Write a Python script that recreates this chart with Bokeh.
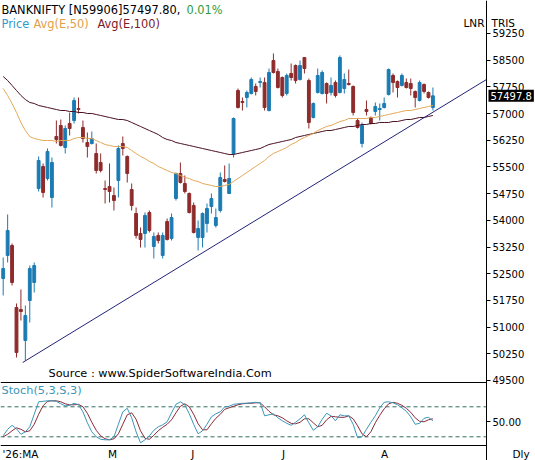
from bokeh.plotting import figure
from bokeh.models import (ColumnDataSource, FixedTicker, Label, Range1d,
                          LinearAxis, NumeralTickFormatter)
from bokeh.embed import file_html
from bokeh.resources import INLINE

# ---------------- data ----------------
opens = [52365, 53012, 53293, 51550, 51494, 50623, 51747, 52253, 54894, 55513,
         55176, 54641, 56355, 56665, 56047, 56721, 56805, 57142, 56609, 56187,
         56159, 55878, 55625, 54894, 54951, 54697, 55119, 56159, 55794, 54866,
         54192, 53630, 53630, 54220, 53264, 53574, 53012, 53967, 53489, 54613,
         55316, 55035, 54754, 54417, 53517, 53517, 53911, 54388, 53855, 54276,
         55147, 54754, 55878, 57648, 57339, 57451, 57564, 57761, 57873, 57873,
         57086, 58491, 58182, 58013, 57564, 58126, 58351, 57957, 58575, 57929,
         56890, 57592, 57564, 57845, 57592, 57873, 57592, 57704, 57845, 57761,
         56805, 56159, 57114, 56890, 57058, 57114, 57171, 57536, 58070, 57901,
         57789, 57873, 57845, 57620, 57367, 57817, 57592, 57171]
highs = [52955, 54164, 53349, 51663, 52056, 51606, 52730, 52815, 55794, 55597,
         56018, 55765, 56805, 56833, 56665, 57030, 57451, 57451, 56805, 56468,
         56496, 56159, 55878, 55119, 55597, 54922, 56103, 56355, 55822, 55035,
         54360, 53798, 54220, 54276, 53658, 53658, 53658, 54051, 54192, 55344,
         55625, 55260, 54782, 54501, 53995, 54220, 54473, 54754, 54332, 55344,
         55541, 55597, 56890, 57704, 57451, 57648, 58013, 57845, 58013, 58013,
         58266, 58688, 58266, 58041, 58126, 58407, 58379, 58491, 58575, 57985,
         57311, 58266, 58210, 57873, 58013, 57929, 58632, 58126, 58238, 57789,
         56861, 56749, 57367, 56918, 57311, 57283, 57451, 58266, 58126, 57929,
         58126, 57985, 57985, 57648, 57929, 57845, 57620, 57732]
lows = [51888, 52815, 52169, 50145, 51185, 50061, 51129, 51972, 54810, 54641,
        55119, 54360, 56159, 56075, 55878, 56384, 56721, 57002, 56187, 55765,
        56131, 55316, 55344, 54473, 54501, 54276, 54641, 55822, 55063, 54276,
        53489, 53236, 53236, 53658, 52927, 53349, 52927, 53433, 53433, 54557,
        55035, 54754, 54192, 53630, 53152, 53236, 53658, 54192, 53798, 54220,
        55063, 54754, 55765, 57142, 57086, 57171, 57536, 57508, 57732, 57086,
        57058, 58126, 57704, 57451, 57508, 57929, 57845, 57929, 58126, 56580,
        56861, 57564, 57536, 57283, 57508, 57451, 57564, 57564, 57789, 56946,
        56580, 56047, 56946, 56693, 56946, 56805, 57142, 57508, 57592, 57451,
        57761, 57704, 57508, 57171, 57339, 57564, 57423, 57086]
closes = [52646, 53714, 52253, 50286, 51438, 51326, 52646, 52730, 55681, 54782,
          55934, 55625, 56271, 56103, 56580, 56580, 57367, 57114, 56299, 56075,
          56299, 55400, 55400, 54866, 54810, 54557, 56018, 56018, 55316, 54417,
          53574, 53461, 54136, 53714, 53547, 53433, 53574, 53461, 54079, 55316,
          55063, 54810, 54220, 53658, 53770, 54192, 54332, 54613, 54079, 55204,
          55091, 55176, 56861, 57171, 57311, 57592, 57957, 57620, 57901, 57171,
          58154, 58154, 57732, 57508, 58070, 58013, 57929, 58351, 58266, 56749,
          57283, 58070, 58154, 57564, 57789, 57508, 58575, 57957, 57817, 57030,
          56608, 56665, 57058, 56721, 57199, 57142, 57283, 58238, 57873, 57732,
          58070, 57732, 57704, 57451, 57873, 57620, 57451, 57497.8]

ema50 = [57704, 57508, 57283, 57030, 56749, 56524, 56355, 56299, 56271, 56243,
         56243, 56243, 56215, 56243, 56243, 56243, 56299, 56327, 56327, 56299,
         56299, 56243, 56187, 56131, 56103, 56075, 56075, 56075, 56047, 55962,
         55878, 55794, 55737, 55653, 55597, 55513, 55457, 55400, 55344, 55316,
         55260, 55204, 55176, 55119, 55091, 55035, 55007, 54979, 54951, 54951,
         54979, 55007, 55091, 55176, 55260, 55344, 55429, 55513, 55597, 55681,
         55794, 55878, 55934, 55990, 56047, 56131, 56187, 56271, 56327, 56384,
         56440, 56524, 56580, 56637, 56665, 56721, 56777, 56805, 56861, 56861,
         56861, 56861, 56861, 56890, 56890, 56918, 56946, 56974, 57002, 57030,
         57058, 57086, 57086, 57114, 57142, 57171, 57199, 57227]
ema100 = [58041, 57929, 57789, 57648, 57508, 57395, 57311, 57283, 57227, 57199,
          57171, 57142, 57114, 57086, 57086, 57058, 57058, 57030, 57030, 57002,
          57002, 56974, 56946, 56918, 56890, 56861, 56833, 56833, 56805, 56749,
          56693, 56637, 56580, 56524, 56468, 56412, 56327, 56271, 56243, 56187,
          56159, 56131, 56103, 56075, 56047, 56018, 55990, 55962, 55934, 55906,
          55878, 55850, 55850, 55878, 55906, 55934, 55962, 55990, 56018, 56075,
          56131, 56159, 56187, 56215, 56243, 56271, 56327, 56355, 56384, 56412,
          56440, 56468, 56496, 56524, 56524, 56552, 56580, 56609, 56637, 56637,
          56665, 56693, 56693, 56721, 56721, 56749, 56749, 56749, 56777, 56777,
          56805, 56833, 56833, 56861, 56890, 56890, 56918, 56946]

stoch_k = [22, 35, 43, 36, 25, 30, 40, 65, 90, 91,
           92, 92, 91, 86, 82, 83, 87, 84, 70, 48,
           30, 20, 15, 14, 14, 20, 45, 70, 77, 58,
           30, 8, 14, 22, 33, 40, 44, 50, 68, 85,
           90, 84, 66, 45, 26, 32, 45, 60, 66, 70,
           80, 81, 85, 86, 87, 87, 88, 89, 88, 62,
           64, 66, 58, 52, 47, 43, 49, 56, 64, 48,
           33, 40, 55, 67, 62, 52, 64, 62, 62, 45,
           18, 20, 35, 49, 62, 78, 89, 90, 88, 84,
           78, 71, 60, 45, 47, 57, 59, 52]
stoch_d = [20, 25, 32, 38, 35, 30, 32, 45, 65, 82,
           91, 92, 92, 90, 86, 84, 84, 85, 80, 67,
           49, 33, 22, 16, 14, 16, 26, 45, 64, 68,
           55, 32, 17, 15, 23, 32, 39, 45, 54, 68,
           81, 86, 80, 65, 46, 34, 34, 46, 57, 65,
           75, 78, 81, 84, 86, 87, 87, 88, 88, 80,
           71, 64, 62, 58, 52, 47, 46, 49, 56, 56,
           48, 40, 43, 54, 61, 60, 59, 59, 62, 56,
           42, 26, 20, 30, 48, 63, 76, 86, 89, 87,
           83, 77, 69, 58, 51, 50, 54, 56]

trend_x = [4.4, 109.1]
trend_y = [50005, 57957]

price_ticks = [49500, 50250, 51000, 51750, 52500, 53250, 54000, 54750,
               55500, 56250, 57000, 57750, 58500, 59250]
month_ticks = [3.9, 24.7, 42.8, 63.3, 86.1]
month_labels = ["'26:MA", "M", "J", "J", "A"]
stoch_levels = [80, 20]
stoch_mid = 50
last_price = 57497.8

# ---------------- layout (pixels of the 535 x 460 canvas) ----------------
FONT = "DejaVu Sans"
UP = "#1b7bb3"
DN = "#8e2b2b"
W, H = 535, 460
X0_PX, BAR_PX = 2.7, 4.43          # first bar position, bar spacing
AXIS_PX = 486                      # right axis line
SEP_PX, BOT_PX = 382, 445          # panel separator, bottom axis line
PRICE_AT_TOP, PRICE_PER_PX = 60177, 28.1
STOCH80_PX, STOCH_PER_PX = 406.3, 2.0

x_start = -X0_PX / BAR_PX
x_end = (W - X0_PX) / BAR_PX
x_axis = (AXIS_PX - X0_PX) / BAR_PX


def price_at(py):
    return PRICE_AT_TOP - py * PRICE_PER_PX


def stoch_at(py):
    return 80 - (py - STOCH80_PX) * STOCH_PER_PX


stoch_range = Range1d(stoch_at(H), stoch_at(0))
mid_py = STOCH80_PX + (80 - stoch_mid) / STOCH_PER_PX
mid_as_price = round(price_at(mid_py))

idx = list(range(len(opens)))
up = [c >= o for o, c in zip(opens, closes)]
src = ColumnDataSource(dict(
    x=idx, low=lows, high=highs,
    top=[max(o, c) for o, c in zip(opens, closes)],
    bottom=[min(o, c) for o, c in zip(opens, closes)],
    color=[UP if u else DN for u in up],
))

p = figure(width=W, height=H, x_range=(x_start, x_end),
           y_range=(price_at(H), price_at(0)),
           output_backend="svg", toolbar_location=None,
           x_axis_location=None, y_axis_location=None,
           min_border=0)
p.extra_y_ranges = {"stoch": stoch_range}
p.grid.visible = False
p.outline_line_color = None
p.background_fill_color = "white"

# price panel
p.segment(x0="x", y0="low", x1="x", y1="high", color="color", line_width=1, source=src)
p.vbar(x="x", top="top", bottom="bottom", width=0.64, fill_color="color",
       line_color="color", line_width=1, source=src)
p.line(idx, ema100, line_color="#4a1020", line_width=1)
p.line(idx, ema50, line_color="#e3a857", line_width=1)
p.line(trend_x, trend_y, line_color="#22227a", line_width=1)

# stochastic panel
for lv in stoch_levels:
    p.segment(x0=x_start, x1=x_axis, y0=lv, y1=lv, line_color="#2f6f5f",
              line_dash="4 3", line_width=1, y_range_name="stoch")
p.line(idx, stoch_d, line_color="#8b2a3a", line_width=1, y_range_name="stoch")
p.line(idx, stoch_k, line_color="#3a96b8", line_width=1, y_range_name="stoch")

# right price axis (drawn at the axis line inside the canvas)
ya = LinearAxis(fixed_location=x_axis,
                ticker=FixedTicker(ticks=price_ticks + [mid_as_price]),
                formatter=NumeralTickFormatter(format="0"))
ya.major_label_overrides = {mid_as_price: "50.00"}
ya.major_tick_out = 4
ya.major_tick_in = 0
ya.minor_tick_line_color = None
ya.major_label_standoff = 2
ya.major_label_text_font = FONT
ya.major_label_text_font_size = "10px"
ya.major_label_text_color = "black"
ya.axis_line_color = "black"
ya.major_tick_line_color = "black"
p.add_layout(ya, "right")

# separator between panels
sep = LinearAxis(fixed_location=price_at(SEP_PX), bounds=(x_start, x_axis),
                 ticker=FixedTicker(ticks=[]), major_tick_out=0, major_tick_in=0,
                 minor_tick_line_color=None, major_label_text_font_size="0px",
                 axis_line_color="black")
p.add_layout(sep, "below")

# bottom time axis
xa = LinearAxis(fixed_location=price_at(BOT_PX), bounds=(x_start, x_axis),
                ticker=FixedTicker(ticks=month_ticks))
xa.major_label_overrides = {t: l for t, l in zip(month_ticks, month_labels)}
xa.major_tick_out = 0
xa.major_tick_in = 0
xa.minor_tick_line_color = None
xa.major_label_standoff = 2
xa.major_label_text_font = FONT
xa.major_label_text_font_size = "10.5px"
xa.major_label_text_color = "black"
xa.axis_line_color = "black"
p.add_layout(xa, "below")


def lab(x, y, text, color="black", size="11px", yu="screen", **kw):
    p.add_layout(Label(x=x, y=y, x_units="screen", y_units=yu, text=text,
                       text_font=FONT, text_font_size=size, text_color=color,
                       text_align="left", text_baseline="middle", **kw))


lab(1, H - 9, "BANKNIFTY [N59906]57497.80,", size="11.4px")
lab(186, H - 9, "0.01%", color="#2e9a3a", size="11.4px")
lab(1, H - 23, "Price", color="#3399cc", size="11.4px")
lab(33, H - 23, "Avg(E,50)", color="#e0a048", size="11.4px")
lab(97, H - 23, "Avg(E,100)", color="#7a1a2a", size="11.4px")
lab(463, H - 22, "LNR", size="10.5px")
lab(491, H - 22, "TRIS", size="10.5px")
lab(48, H - 373, "Source : www.SpiderSoftwareIndia.Com", size="11.3px")
lab(1, H - 390, "Stoch(5,3,S,3)", color="#3a96b8", size="11.3px")
lab(512, H - 453, "Dly", size="10.5px")
lab(488, last_price, "57497.8", color="white", size="10px", yu="data",
    background_fill_color="black", padding=2)

open("out.html", "w").write(file_html(p, INLINE))
